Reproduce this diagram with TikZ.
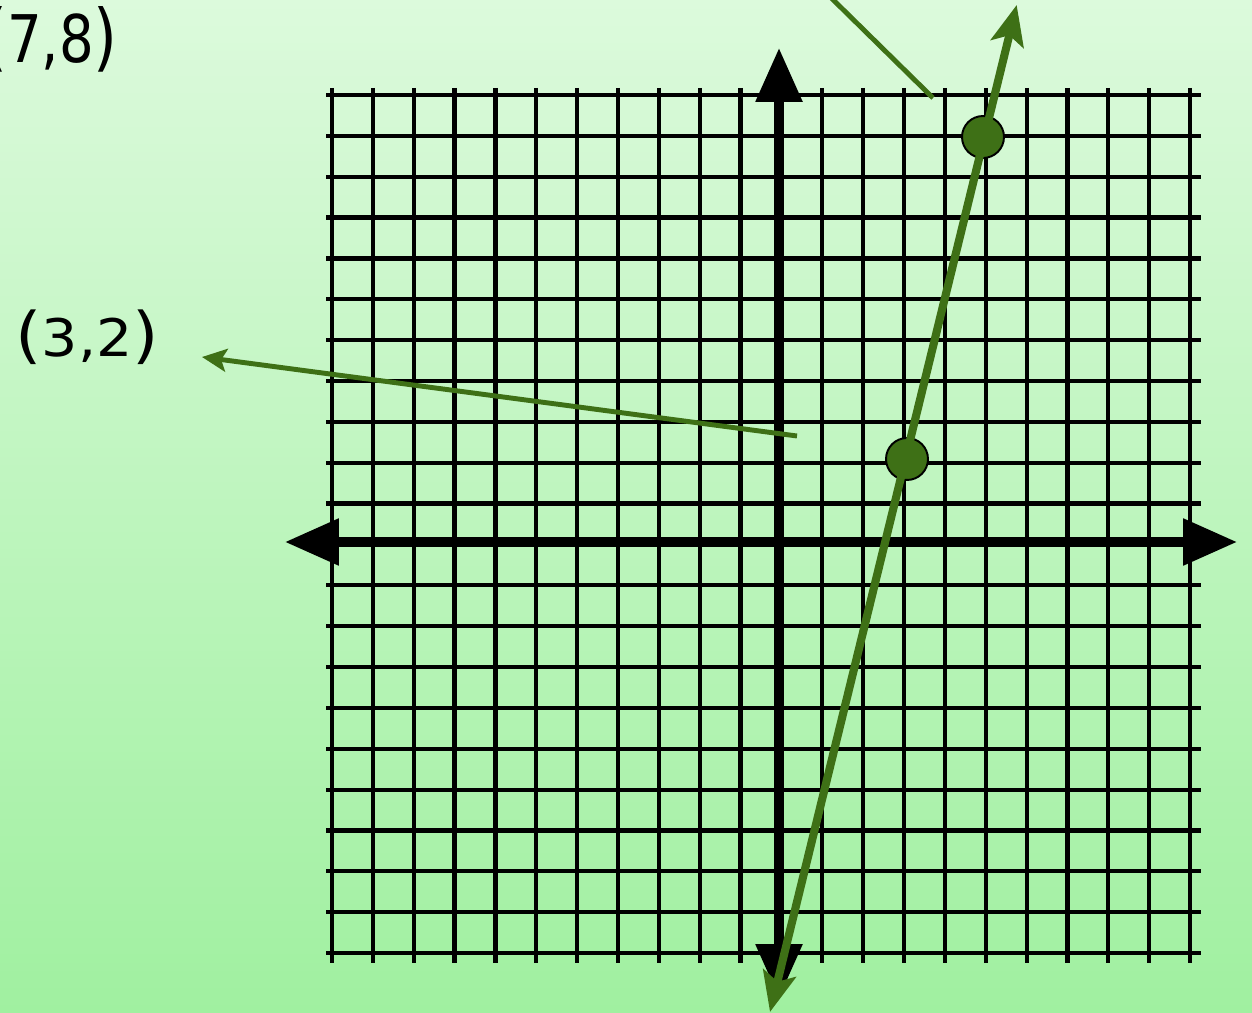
\documentclass[tikz,border=0pt]{standalone}
\usepackage{fontspec}
\setmainfont{DejaVu Sans}
\usetikzlibrary{arrows.meta}
\definecolor{bgtop}{RGB}{220,250,220}
\definecolor{bgbot}{RGB}{160,240,160}
\definecolor{lgreen}{RGB}{62,112,22}
\begin{document}
\begin{tikzpicture}[x=0.02cm,y=-0.02cm,
  gridline/.style={line width=2.4pt,black},
  axisline/.style={line width=5.2pt,black,
    {Triangle[length=30.6pt,width=25.5pt]}-{Triangle[length=30.6pt,width=25.5pt]}},
  greenline/.style={line width=4.6pt,lgreen,
    {Stealth[length=22.7pt,width=19pt,inset=5pt]}-{Stealth[length=22.7pt,width=19pt,inset=5pt]}},
  pointer/.style={line width=2.8pt,lgreen},
  dotpt/.style={circle,draw=black,line width=1.1pt,fill=lgreen,inner sep=0pt,minimum size=0.84cm},
  lbl/.style={inner sep=0pt,text=black}
]
\useasboundingbox (0,0) rectangle (1252,1013);
\clip (0,0) rectangle (1252,1013);
\shade[top color=bgtop,bottom color=bgbot] (0,0) rectangle (1252,1013);

% grid
\foreach \k in {0,...,21} {
  \draw[gridline] ({332+\k*40.86},88) -- ({332+\k*40.86},963);
  \draw[gridline] (326,{95+\k*40.86}) -- (1201,{95+\k*40.86});
}

% axes
\coordinate (xl) at (285,542);
\coordinate (xr) at (1237,542);
\coordinate (yt) at (779,48);
\coordinate (yb) at (779,998);
\draw[axisline] (xl) -- (xr);
\draw[axisline] (yb) -- (yt);

% points
\node[dotpt] (p1) at (907,459) {};
\node[dotpt] (p2) at (983,137) {};

% line through points
\coordinate (lb) at (770,1012);
\coordinate (lt) at (1016.7,5);
\draw[greenline] (lb) -- (lt);

% labels
\node[lbl,anchor=base west] (l32) at (15,357)
  {\scalebox{1.1}[1]{\fontsize{35pt}{42pt}\selectfont(\fontsize{29.5pt}{35pt}\selectfont3,2\fontsize{35pt}{42pt}\selectfont)}};
\node[lbl,anchor=base east] (l78) at (118,63)
  {\scalebox{0.83}[1]{\fontsize{42pt}{50pt}\selectfont(\fontsize{37.4pt}{44pt}\selectfont7,8\fontsize{42pt}{50pt}\selectfont)}};

% pointers
\coordinate (a1) at (797,436);
\coordinate (a1tip) at (202,357);
\draw[pointer,-{Stealth[length=14pt,width=13pt,inset=3pt]}] (a1) -- (a1tip);
\coordinate (a2) at (933,98);
\coordinate (a2end) at (813,-20);
\draw[pointer] (a2) -- (a2end);
\end{tikzpicture}
\end{document}
